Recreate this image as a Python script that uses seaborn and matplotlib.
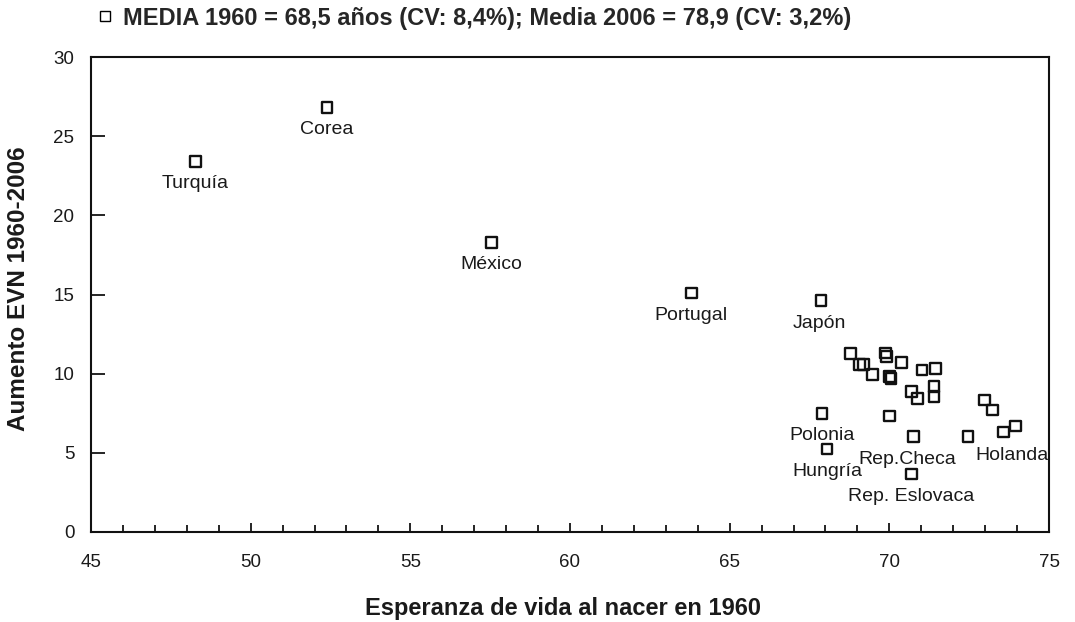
import matplotlib
matplotlib.use("Agg")
import matplotlib.pyplot as plt
from matplotlib.lines import Line2D
from matplotlib.ticker import MultipleLocator
import seaborn as sns
import pandas as pd

# Data
esperanza_1960 = [48.27, 52.39, 57.53, 63.80, 67.86,
                  68.78, 69.06, 69.20, 69.48, 69.87, 69.91, 70.39, 70.01, 70.05,
                  71.02, 71.45, 70.70, 70.88, 71.40, 71.40, 72.98, 73.24,
                  67.89, 70.00, 68.05, 70.75, 72.46, 73.58, 73.94, 70.69]
aumento = [23.4, 26.8, 18.3, 15.1, 14.6,
           11.28, 10.59, 10.59, 9.96, 11.30, 11.10, 10.71, 9.80, 9.68,
           10.23, 10.33, 8.86, 8.44, 9.17, 8.54, 8.33, 7.70,
           7.49, 7.32, 5.24, 6.02, 6.02, 6.31, 6.69, 3.66]
paises = ["Turquía", "Corea", "México", "Portugal", "Japón",
          "", "", "", "", "", "", "", "", "",
          "", "", "", "", "", "", "", "",
          "Polonia", "", "Hungría", "Rep.Checa", "", "Holanda", "", "Rep. Eslovaca"]
titulo = "MEDIA 1960 = 68,5 años (CV: 8,4%); Media 2006 = 78,9 (CV: 3,2%)"
x_label = "Esperanza de vida al nacer en 1960"
y_label = "Aumento EVN 1960-2006"

df = pd.DataFrame({"x": esperanza_1960, "y": aumento, "pais": paises})

sns.set_theme(style="white")
plt.rcParams['font.family'] = ['Liberation Sans', 'DejaVu Sans']

fig = plt.figure(figsize=(10.75, 6.22), dpi=100)
ax = fig.add_axes([91/1075, 1-532/622, (1049-91)/1075, (532-57)/622])

sns.scatterplot(data=df, x="x", y="y", ax=ax, marker="s", s=60,
                facecolors="none", edgecolors="#111111", linewidth=1.7,
                legend=False, zorder=3)

# label offsets in points (dx, dy)
offsets = {"Japón": (-1.5, -16), "Rep.Checa": (-4, -16.5), "Holanda": (6, -16.5)}
for _, r in df.iterrows():
    if r["pais"]:
        dx, dy = offsets.get(r["pais"], (0, -16))
        ax.annotate(r["pais"], (r["x"], r["y"]), xytext=(dx, dy),
                    textcoords="offset points", ha="center", va="center",
                    fontsize=14, color="#1a1a1a")

ax.set_xlim(45, 75)
ax.set_ylim(0, 30)
ax.xaxis.set_major_locator(MultipleLocator(5))
ax.xaxis.set_minor_locator(MultipleLocator(1))
ax.yaxis.set_major_locator(MultipleLocator(5))
ax.tick_params(axis="x", which="major", direction="in", length=6.5, width=1.2,
               color="black", bottom=True, top=False, pad=16, labelsize=13.5,
               labelcolor="#1a1a1a")
ax.tick_params(axis="x", which="minor", direction="in", length=5, width=1.2,
               color="black", bottom=True, top=False)
ax.tick_params(axis="y", which="major", direction="in", length=10, width=1.2,
               color="black", left=True, right=False, pad=12, labelsize=13.5,
               labelcolor="#1a1a1a")
for s in ax.spines.values():
    s.set_color("#111111")
    s.set_linewidth(1.5)
ax.set_xlabel("")
ax.set_ylabel("")

fig.text(563/1075, 1-608/622, x_label, ha="center", va="center",
         fontsize=17, fontweight="bold", color="#1a1a1a")
fig.text(18.5/1075, 1-289/622, y_label, ha="center", va="center", rotation=90,
         fontsize=17.5, fontweight="bold", color="#1a1a1a")

handle = Line2D([], [], marker="s", linestyle="none", markersize=7.5,
                markerfacecolor="none", markeredgecolor="black", markeredgewidth=1.0)
fig.legend(handles=[handle], labels=[titulo], loc="center left",
           bbox_to_anchor=(99/1075, 1-18/622), frameon=False,
           prop={"weight": "bold", "size": 17}, handlelength=0.55,
           handletextpad=0.45, borderaxespad=0, borderpad=0)

fig.savefig("out.png", dpi=100)
